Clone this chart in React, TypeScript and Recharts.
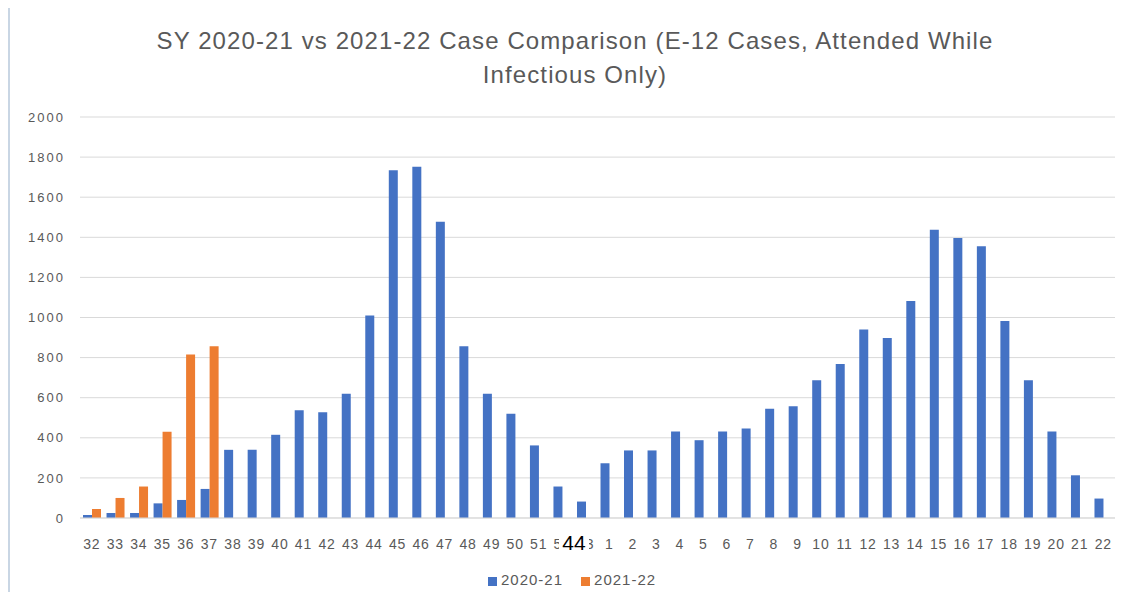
import React from 'react'
import { BarChart, Bar, XAxis, YAxis, CartesianGrid, Legend } from 'recharts'

const weeks = [
  '32', '33', '34', '35', '36', '37', '38', '39', '40', '41', '42', '43', '44', '45', '46', '47',
  '48', '49', '50', '51', '52', '53', '1', '2', '3', '4', '5', '6', '7', '8', '9', '10', '11',
  '12', '13', '14', '15', '16', '17', '18', '19', '20', '21', '22',
]

const cases2020 = [
  15, 25, 25, 73, 90, 145, 340, 340, 415, 537, 528, 620, 1010, 1735, 1752, 1477, 857, 620, 520,
  362, 157, 82, 273, 337, 337, 432, 388, 432, 447, 545, 557, 687, 768, 940, 898, 1082, 1438,
  1397, 1355, 982, 687, 432, 213, 97,
]

const cases2021: (number | null)[] = [45, 100, 157, 430, 815, 857]

const yTicks = [0, 200, 400, 600, 800, 1000, 1200, 1400, 1600, 1800, 2000]

const chartData = weeks.map((w, i) => ({
  week: w,
  '2020-21': cases2020[i],
  '2021-22': i < cases2021.length ? cases2021[i] : null,
}))

const font = "'Liberation Sans', Arial, sans-serif"

export default function App() {
  return (
    <div style={{ position: 'relative', width: 1139, height: 600, margin: -8, background: '#fff', overflow: 'hidden' }}>
      <div style={{ position: 'absolute', left: 0, top: 0, width: 1139, height: 2, background: '#b5474f' }} />
      <div style={{ position: 'absolute', left: 0, top: 2, width: 1139, height: 4, background: '#dfe3ea' }} />
      <div style={{ position: 'absolute', left: 7, top: 4, width: 3, height: 596, background: '#c9d6e4' }} />
      <div style={{ position: 'absolute', left: 1133, top: 4, width: 1, height: 596, background: '#e6e9ee' }} />

      <div
        style={{
          position: 'absolute',
          left: 0,
          top: 24,
          width: 1150,
          textAlign: 'center',
          fontFamily: font,
          fontSize: 24,
          letterSpacing: 1.1,
          lineHeight: '34px',
          color: '#595959',
        }}
      >
        SY 2020-21 vs 2021-22 Case Comparison (E-12 Cases, Attended While
        <br />
        Infectious Only)
      </div>

      <div style={{ position: 'absolute', left: 0, top: 0 }}>
        <BarChart
          width={1139}
          height={600}
          data={chartData}
          barGap={0}
          barSize={9}
          margin={{ top: 117, right: 24, left: 0, bottom: 35 }}
        >
          <CartesianGrid stroke="#d9d9d9" vertical={false} />
          <XAxis
            dataKey="week"
            interval={0}
            tickLine={false}
            axisLine={{ stroke: '#d9d9d9' }}
            tickMargin={15}
            tick={{ fontSize: 14, fill: '#595959', fontFamily: font, letterSpacing: 0.8 }}
          />
          <YAxis
            domain={[0, 2000]}
            ticks={yTicks}
            width={80}
            tickLine={false}
            axisLine={false}
            tickMargin={9}
            tick={{ fontSize: 13, fill: '#595959', fontFamily: font, letterSpacing: 2 }}
          />
          <Legend
            verticalAlign="bottom"
            align="left"
            iconType="square"
            iconSize={9}
            wrapperStyle={{ bottom: 12, left: 488, width: 230, fontFamily: font, fontSize: 15 }}
            formatter={(v) => (
              <span style={{ color: '#595959', letterSpacing: 1, marginRight: 8 }}>{v}</span>
            )}
          />
          <Bar dataKey="2020-21" fill="#4472c4" isAnimationActive={false} />
          <Bar dataKey="2021-22" fill="#ed7d31" isAnimationActive={false} />
        </BarChart>
      </div>

      <div
        style={{
          position: 'absolute',
          left: 559,
          top: 531,
          width: 30,
          height: 24,
          background: '#fff',
          color: '#000',
          fontFamily: font,
          fontSize: 21,
          lineHeight: '24px',
          textAlign: 'center',
        }}
      >
        44
      </div>
    </div>
  )
}
